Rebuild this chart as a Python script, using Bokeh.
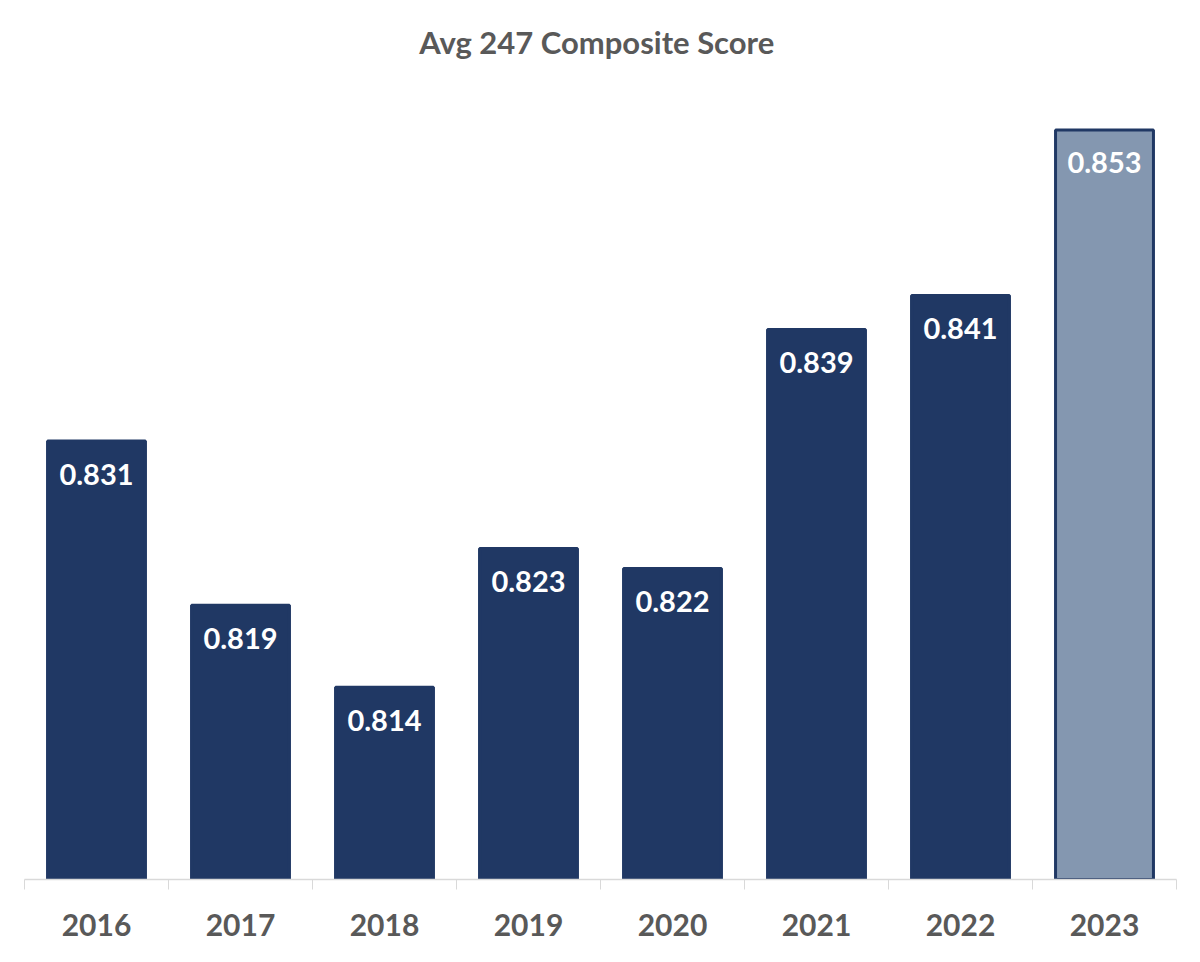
from bokeh.plotting import figure
from bokeh.models import ColumnDataSource, LabelSet, FixedTicker, Range1d
from bokeh.embed import file_html
from bokeh.resources import INLINE
from bokeh.core.properties import value

years = ["2016", "2017", "2018", "2019", "2020", "2021", "2022", "2023"]
scores = [0.8310, 0.8194, 0.8136, 0.8234, 0.8220, 0.8389, 0.8413, 0.8530]
fills = ["#203864"] * 7 + ["#8497B0"]

idx = list(range(len(years)))
xc = [i + 0.5 for i in idx]
src = ColumnDataSource(dict(x=xc, top=scores, fill=fills,
                            lab=[f"{v:.3f}" for v in scores]))

p = figure(width=1184, height=946, output_backend="svg", toolbar_location=None,
           x_range=Range1d(0, len(years)), y_range=Range1d(0.80, 0.8565),
           min_border_left=24, min_border_right=8, min_border_top=80,
           min_border_bottom=67)
p.title.text = "Avg 247 Composite  Score"
p.title.align = "center"
p.title.text_font = "Lato"
p.title.text_font_size = "31px"
p.title.text_color = "#595959"
p.title.text_font_style = "bold"
p.title.standoff = 40

p.vbar(x="x", top="top", bottom=0.80, width=0.68, source=src,
       fill_color="fill", line_color="#203864", line_width=3)

labels = LabelSet(x="x", y="top", text="lab", source=src, y_offset=-33,
                  text_align="center", text_baseline="middle",
                  text_color="white", text_font=value("Lato"),
                  text_font_size="29px", text_font_style="bold")
p.add_layout(labels)

p.xaxis.ticker = FixedTicker(ticks=xc, minor_ticks=[float(i) for i in range(len(years) + 1)])
p.xaxis.major_label_overrides = {x: y for x, y in zip(xc, years)}
p.xaxis.major_tick_line_color = None
p.xaxis.minor_tick_line_color = "#D9D9D9"
p.xaxis.minor_tick_in = 0
p.xaxis.minor_tick_out = 10
p.xaxis.axis_line_color = "#D9D9D9"
p.xaxis.axis_line_width = 1.5
p.xaxis.major_label_text_font = "Lato"
p.xaxis.major_label_text_font_size = "30px"
p.xaxis.major_label_text_font_style = "bold"
p.xaxis.major_label_text_color = "#595959"
p.xaxis.major_label_standoff = 24
p.yaxis.visible = False
p.xgrid.visible = False
p.ygrid.visible = False
p.outline_line_color = None

open("out.html", "w").write(file_html(p, INLINE))
